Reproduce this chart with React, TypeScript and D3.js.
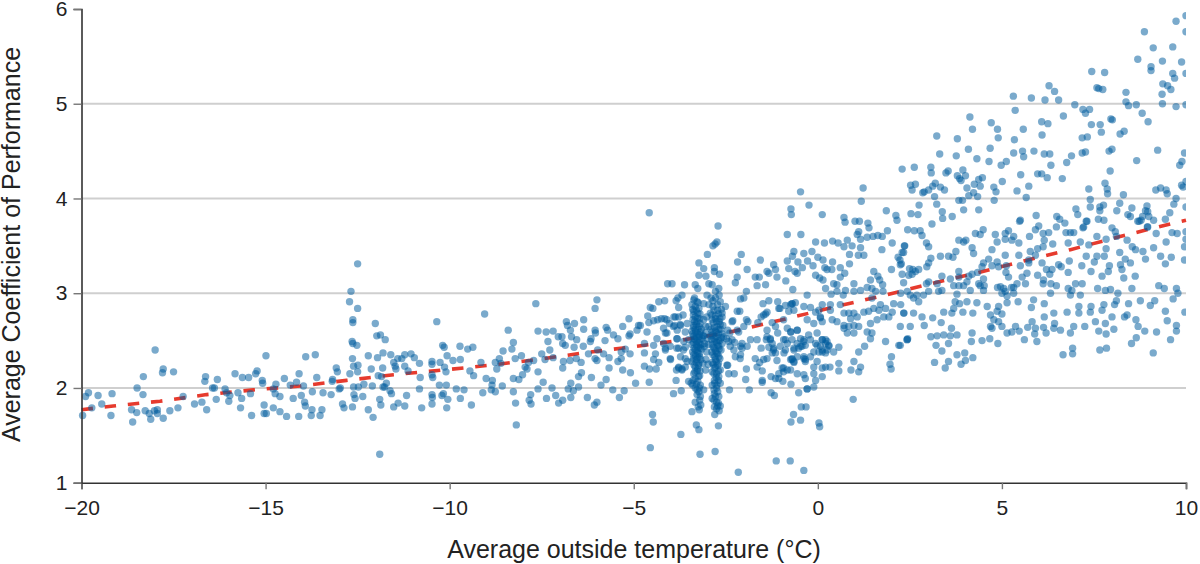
import React, { useEffect, useRef } from 'react';
import * as d3 from 'd3';

type Pt = [number, number];

const xTicks = [-20, -15, -10, -5, 0, 5, 10];
const yTicks = [1, 2, 3, 4, 5, 6];
const gridValues = [2, 3, 4, 5];
const xTitle = 'Average outside temperature (°C)';
const yTitle = 'Average Coefficient of Performance';

// trend line
const trend: Pt[] = [
	[-20, 1.77], [-19.14, 1.81], [-17.87, 1.86], [-16.6, 1.93], [-15.33, 1.98], [-14.06, 2.02],
	[-12.8, 2.08], [-11.52, 2.14], [-10.17, 2.19], [-8.9, 2.24], [-7.63, 2.3], [-6.36, 2.37],
	[-4.91, 2.44], [-3.78, 2.5], [-2.51, 2.58], [-1.83, 2.64], [-0.65, 2.75], [0.61, 2.87],
	[1.84, 2.98], [3.06, 3.1], [4.37, 3.22], [5.59, 3.34], [6.86, 3.46], [8.13, 3.59], [9.35, 3.71], [10, 3.77],
];

const coldPoints: Pt[] = [
	[-19.97, 1.71], [-19.89, 1.91], [-19.81, 1.95], [-19.72, 1.79], [-19.55, 1.92], [-19.45, 1.83], [-19.2, 1.71], [-19.17, 1.94],
	[-18.64, 1.77], [-18.61, 1.64], [-18.5, 1.74], [-18.49, 2.0], [-18.33, 1.93], [-18.32, 2.12], [-18.27, 1.76], [-18.16, 1.73],
	[-18.12, 1.67], [-18.0, 2.4], [-18.02, 1.76], [-17.94, 1.77], [-17.94, 1.73], [-17.78, 1.68], [-17.78, 2.2], [-17.8, 2.16],
	[-17.6, 1.76], [-17.5, 2.17], [-17.38, 1.79], [-17.24, 1.91], [-16.93, 1.83], [-16.73, 1.85], [-16.6, 1.77], [-16.63, 2.12],
	[-16.65, 2.07], [-16.44, 2.0], [-16.39, 2.0], [-16.34, 1.88], [-16.31, 2.09], [-16.1, 1.99], [-16.06, 1.95], [-16, 1.86],
	[-15.97, 1.92], [-15.83, 2.15], [-15.75, 1.95], [-15.68, 1.79], [-15.65, 1.89], [-15.63, 2.11], [-15.46, 2.11], [-15.41, 1.94],
	[-15.38, 1.71], [-15.27, 2.15], [-15.23, 2.18], [-15.09, 2.08], [-15.08, 2.05], [-15.04, 1.82], [-15.04, 1.73], [-14.98, 1.73],
	[-14.99, 2.34], [-14.79, 1.79], [-14.79, 1.99], [-14.74, 1.94], [-14.72, 2.04], [-14.61, 1.91], [-14.61, 1.75], [-14.49, 2.1],
	[-14.43, 1.7], [-14.33, 2.03], [-14.25, 1.89], [-14.16, 2.06], [-14.1, 1.7], [-14.09, 2.15], [-14.03, 1.92], [-13.97, 2.02],
	[-13.94, 1.85], [-13.92, 1.81], [-13.91, 2.33], [-13.76, 1.71], [-13.74, 1.77], [-13.73, 1.96], [-13.65, 2.35], [-13.61, 2.11],
	[-13.52, 1.71], [-13.47, 1.77], [-13.44, 1.95], [-13.22, 1.93], [-13.18, 2.09], [-13.19, 2.07], [-13.08, 2.21], [-13.05, 2.17],
	[-13, 1.99], [-12.97, 2], [-12.91, 1.83], [-12.87, 1.79], [-12.72, 2.91], [-12.68, 3.02], [-12.71, 2.15], [-12.64, 1.8],
	[-12.64, 2.31], [-12.63, 2.72], [-12.63, 2.69], [-12.65, 2.49], [-12.63, 2.47], [-12.52, 2.45], [-12.61, 2.23], [-12.49, 2.24],
	[-12.5, 2.17], [-12.5, 3.31], [-12.5, 2.84], [-12.61, 2.01], [-12.48, 2.01], [-12.6, 1.93], [-12.57, 1.89], [-12.36, 1.91],
	[-12.33, 2.04], [-12.21, 1.77], [-12.21, 2.34], [-12.13, 2.2], [-12.1, 2.02], [-12.08, 1.69], [-12.02, 2.68], [-11.98, 2.55],
	[-11.96, 2.32], [-11.94, 2.13], [-11.85, 2.12], [-11.9, 1.88], [-11.87, 1.82], [-11.9, 1.3], [-11.88, 2.56], [-11.81, 2.37],
	[-11.82, 2.21], [-11.81, 2.01], [-11.77, 2.01], [-11.72, 2.05], [-11.75, 2.51], [-11.6, 2.35], [-11.62, 1.97], [-11.58, 1.94],
	[-11.52, 2.27], [-11.52, 1.8], [-11.48, 2.23], [-11.46, 2.2], [-11.41, 2.31], [-11.4, 1.84],
];

const coolPoints: Pt[] = [
	[-11.3, 2.31], [-11.22, 2.35], [-11.22, 2.23], [-11.13, 2.18], [-11.05, 2.36], [-10.96, 2.32], [-10.82, 2.26], [-10.8, 2.11],
	[-10.82, 1.99], [-11.17, 1.92], [-11.22, 1.81], [-10.76, 1.79], [-10.48, 2.28], [-10.48, 2.25], [-10.48, 2.14], [-10.46, 2.11],
	[-10.48, 1.93], [-10.47, 1.9], [-10.48, 1.83], [-10.35, 2.7], [-10.28, 2.03], [-10.26, 2.27], [-10.21, 1.92], [-10.19, 2.45],
	[-10.15, 2.43], [-10.17, 1.94], [-10.14, 2.22], [-10.1, 2.17], [-10.09, 2.03], [-10.07, 2.34], [-10.05, 1.88], [-10.08, 1.79],
	[-9.91, 2.29], [-9.82, 1.99], [-9.72, 2.44], [-9.71, 2.3], [-9.71, 1.89], [-9.61, 1.98], [-9.51, 2.41], [-9.45, 2.18],
	[-9.41, 1.82], [-9.37, 2.43], [-9.35, 2.13], [-9.15, 2.27], [-9.1, 1.95], [-9.05, 2.78], [-9.01, 2.1], [-8.87, 1.98],
	[-8.84, 2.08], [-8.85, 2.03], [-8.76, 1.96], [-8.76, 2.27], [-8.72, 2.2], [-8.65, 2.31], [-8.61, 2.26], [-8.57, 2.02],
	[-8.55, 2.39], [-8.41, 2.61], [-8.27, 2.48], [-8.31, 2.41], [-8.27, 2.1], [-8.27, 1.96], [-8.21, 1.84], [-8.22, 2.31],
	[-8.19, 1.61], [-8.12, 2.09], [-8.05, 2.34], [-8.02, 2.14], [-7.95, 2.22], [-7.9, 2.2], [-7.86, 2.27], [-7.8, 1.93],
	[-7.84, 1.87], [-7.79, 1.83], [-7.72, 2.29], [-7.66, 2.89], [-7.6, 2.6], [-7.6, 2.17], [-7.6, 1.99], [-7.5, 2.36],
	[-7.46, 2.06], [-7.41, 2.3], [-7.38, 2.59], [-7.37, 1.89], [-7.33, 2.49], [-7.28, 2.4], [-7.22, 2], [-7.19, 2.6],
	[-7.19, 2.32], [-7.12, 1.92], [-7.05, 2.54], [-7.04, 1.84], [-6.95, 2.54], [-6.93, 2.47], [-6.93, 2.21], [-6.93, 1.87],
	[-6.91, 2.28], [-6.83, 2.7], [-6.8, 2.66], [-6.86, 2.45], [-6.78, 1.99], [-6.72, 2.61], [-6.73, 2.29], [-6.71, 1.9],
	[-6.71, 2.05], [-6.69, 2.54], [-6.61, 2.68], [-6.62, 2.43], [-6.64, 1.97], [-6.55, 2.51], [-6.56, 2.31], [-6.5, 2.01],
	[-6.5, 2.12], [-6.43, 2.27], [-6.42, 2.16], [-6.37, 2.44], [-6.36, 2.72], [-6.36, 2.62], [-6.26, 1.9], [-6.23, 2.36],
	[-6.18, 2.49], [-6.16, 2.52], [-6.15, 2.11], [-6.05, 2.84], [-6, 2.93], [-6.05, 2.61], [-6.04, 2.58], [-6.05, 2.31],
	[-6, 2.29], [-6.07, 1.82], [-6, 1.85], [-5.98, 2.4], [-5.89, 2.03], [-5.82, 2.36], [-5.78, 2.5], [-5.75, 2.09],
	[-5.75, 2.64], [-5.71, 2.61], [-5.67, 2.21], [-5.67, 2.32], [-5.57, 1.98], [-5.55, 2.56], [-5.43, 2.52], [-5.43, 2.28],
	[-5.39, 1.9], [-5.34, 2.38], [-5.34, 2.31], [-5.3, 2.65], [-5.3, 2.19], [-5.26, 1.97], [-5.23, 2.41], [-5.13, 2.73],
	[-5.13, 2.55], [-5.1, 2.57], [-5.1, 2.36], [-5.09, 2.16], [-4.95, 2.05], [-4.91, 2.61], [-4.87, 2.66],
];

const columnPoints: Pt[] = [
	[-4.58, 3.85], [-4.49, 1.72], [-4.47, 1.64], [-4.55, 1.37], [-3.72, 1.51], [-3.42, 1.75], [-3.2, 1.3], [-2.79, 1.33],
	[-2.16, 1.11], [-2.7, 1.6], [-3.3, 1.61], [-3.23, 1.56], [-2.8, 1.72], [-2.71, 3.71], [-2.74, 3.54], [-2.79, 3.52],
	[-2.85, 3.5], [-3.0, 3.41], [-3.23, 3.32], [-3.1, 3.26], [-2.81, 3.27], [-2.67, 3.2], [-3.04, 3.18], [-3.23, 3.19], [-2.81, 3.23],
	[-4.08, 3.1], [-3.96, 3.1], [-3.62, 3.09], [-3.69, 2.98], [-3.8, 2.95], [-4.16, 2.92], [-4.32, 2.91], [-3.85, 2.92],
	[-4.55, 2.85], [-4.48, 2.84], [-3.78, 2.85], [-4.62, 2.76], [-4.46, 2.71], [-4.35, 2.72], [-4.25, 2.73], [-4.16, 2.73],
	[-3.91, 2.75], [-3.78, 2.75], [-3.66, 2.77], [-4.03, 2.68], [-3.89, 2.66], [-3.73, 2.66], [-3.55, 2.68], [-4.59, 2.69],
	[-4.19, 2.63], [-4.64, 2.59], [-4.37, 2.52], [-4.1, 2.58], [-3.82, 2.61], [-3.6, 2.59], [-4.82, 2.66], [-4.71, 2.47],
	[-4.46, 2.45], [-4.19, 2.47], [-3.82, 2.52], [-3.64, 2.49], [-3.51, 2.51], [-4.71, 2.37], [-4.41, 2.36], [-4.14, 2.4],
	[-3.78, 2.42], [-3.6, 2.43], [-3.73, 2.33], [-4.0, 2.3], [-3.55, 2.28], [-4.46, 2.3], [-4.32, 2.27], [-4.71, 2.23],
	[-4.57, 2.2], [-4.39, 2.2], [-3.84, 2.19], [-3.78, 2.21], [-3.69, 2.2], [-3.6, 2.22], [-4.58, 2.06], [-3.85, 2.08],
	[-3.51, 2.07], [-3.92, 1.94], [-3.71, 1.97], [-3.44, 2.05],
	[-4.1, 2.72], [-3.87, 2.75], [-4.14, 2.58], [-3.92, 2.65], [-3.74, 2.67], [-4.01, 2.44], [-4.14, 2.42], [-3.83, 2.42],
	[-3.65, 2.4], [-3.83, 2.52], [-3.6, 2.31], [-3.78, 2.22], [-4.01, 2.31], [-3.69, 2.19],
	// first dense column
	[-3.33, 3.09], [-3.26, 3.05], [-3.37, 2.93], [-3.28, 2.91], [-3.42, 2.88], [-3.33, 2.86], [-3.23, 2.84], [-3.37, 2.81],
	[-3.26, 2.79], [-3.33, 2.75], [-3.21, 2.73], [-3.39, 2.72], [-3.28, 2.7], [-3.37, 2.66], [-3.23, 2.65], [-3.33, 2.62],
	[-3.42, 2.6], [-3.19, 2.59], [-3.28, 2.58], [-3.37, 2.55], [-3.23, 2.54], [-3.14, 2.52], [-3.33, 2.51], [-3.23, 2.48],
	[-3.42, 2.46], [-3.28, 2.44], [-3.19, 2.42], [-3.33, 2.4], [-3.26, 2.37], [-3.37, 2.35], [-3.21, 2.33], [-3.3, 2.3],
	[-3.42, 2.28], [-3.23, 2.26], [-3.33, 2.22], [-3.26, 2.2], [-3.37, 2.15], [-3.21, 2.13], [-3.33, 2.1], [-3.26, 2.07],
	[-3.39, 2.08], [-3.19, 2.03], [-3.33, 2.0], [-3.23, 1.96], [-3.28, 1.93], [-3.19, 1.91], [-3.33, 1.85], [-3.21, 1.87],
	[-3.35, 2.95], [-3.25, 2.9], [-3.4, 2.83], [-3.3, 2.82], [-3.2, 2.78], [-3.38, 2.77], [-3.27, 2.74], [-3.35, 2.7],
	[-3.2, 2.68], [-3.3, 2.67], [-3.38, 2.64], [-3.25, 2.62], [-3.16, 2.62], [-3.32, 2.59], [-3.4, 2.57], [-3.22, 2.56],
	[-3.3, 2.54], [-3.12, 2.55], [-3.36, 2.52], [-3.2, 2.51], [-3.28, 2.49], [-3.38, 2.48], [-3.18, 2.46], [-3.3, 2.46],
	[-3.24, 2.43], [-3.36, 2.42], [-3.15, 2.41], [-3.28, 2.39], [-3.4, 2.38], [-3.22, 2.36], [-3.32, 2.34], [-3.26, 2.32],
	[-3.38, 2.31], [-3.18, 2.3], [-3.3, 2.27], [-3.24, 2.24], [-3.36, 2.24], [-3.28, 2.18], [-3.2, 2.18], [-3.34, 2.17],
	[-3.24, 2.12], [-3.3, 2.04], [-3.4, 2.03], [-3.22, 2.0], [-3.28, 1.98], [-3.18, 1.82], [-3.25, 1.8], [-3.22, 1.77],
	// second dense column
	[-2.96, 3.1], [-2.87, 3.09], [-2.69, 3.05], [-3.01, 2.98], [-2.9, 2.95], [-2.78, 2.95], [-2.65, 2.91], [-2.96, 2.88],
	[-2.85, 2.86], [-2.72, 2.82], [-2.51, 2.86], [-2.6, 2.79], [-2.92, 2.79], [-2.78, 2.76], [-2.66, 2.73], [-2.87, 2.72],
	[-2.75, 2.7], [-2.65, 2.67], [-2.96, 2.65], [-2.81, 2.64], [-2.69, 2.62], [-2.87, 2.59], [-2.75, 2.58], [-2.6, 2.57],
	[-2.92, 2.55], [-2.81, 2.52], [-2.66, 2.5], [-2.75, 2.48], [-2.87, 2.46], [-2.69, 2.44], [-2.81, 2.42], [-2.63, 2.4],
	[-2.75, 2.37], [-2.85, 2.35], [-2.69, 2.33], [-2.78, 2.3], [-2.87, 2.27], [-2.72, 2.24], [-2.81, 2.21], [-2.65, 2.19],
	[-2.75, 2.15], [-2.87, 2.17], [-2.69, 2.12], [-2.81, 2.08], [-2.65, 2.05], [-2.87, 2.03], [-2.75, 2.0], [-2.81, 1.94],
	[-2.69, 1.91], [-2.87, 1.89], [-2.75, 1.85], [-2.72, 1.81], [-2.65, 1.81], [-2.81, 1.8],
	[-2.78, 3.02], [-2.68, 2.98], [-2.85, 2.92], [-2.72, 2.88], [-2.62, 2.83], [-2.82, 2.82], [-2.7, 2.78], [-2.88, 2.77],
	[-2.6, 2.75], [-2.78, 2.73], [-2.68, 2.7], [-2.84, 2.69], [-2.58, 2.66], [-2.74, 2.65], [-2.9, 2.62], [-2.64, 2.62],
	[-2.78, 2.6], [-2.7, 2.57], [-2.86, 2.56], [-2.76, 2.54], [-2.62, 2.53], [-2.88, 2.51], [-2.7, 2.5], [-2.8, 2.49],
	[-2.6, 2.47], [-2.72, 2.45], [-2.84, 2.43], [-2.68, 2.41], [-2.78, 2.39], [-2.88, 2.38], [-2.72, 2.36], [-2.8, 2.33],
	[-2.66, 2.31], [-2.76, 2.28], [-2.84, 2.25], [-2.7, 2.26], [-2.78, 2.22], [-2.7, 2.18], [-2.82, 2.15], [-2.76, 2.11],
	[-2.7, 2.08], [-2.8, 2.05], [-2.74, 2.03], [-2.82, 1.98], [-2.72, 1.96], [-2.78, 1.91], [-2.82, 1.87], [-2.7, 1.84],
	[-2.75, 1.78], [-2.68, 1.76],
	[-3.05, 2.58], [-3.0, 2.52], [-3.08, 2.44], [-2.98, 2.46], [-3.02, 2.38], [-3.1, 2.55], [-3.02, 2.75], [-3.1, 2.72],
	[-3.04, 2.3], [-3.12, 2.26], [-2.98, 2.25],
	[-3.1, 2.89], [-3.05, 2.65], [-3.08, 2.47], [-3.05, 2.19], [-3.1, 1.98],
	[-2.48, 2.52], [-2.45, 2.61], [-2.42, 2.49], [-2.56, 2.54], [-2.38, 2.44], [-2.39, 2.58], [-2.19, 2.61], [-2.45, 2.24],
	[-2.4, 1.98], [-2.27, 2.15], [-2.1, 2.35], [-2.15, 2.59], [-2.31, 2.71], [-2.19, 2.81], [-2.12, 2.81], [-2.1, 2.94],
	[-1.94, 3.02], [-2.01, 2.95], [-1.92, 3.25], [-2.08, 3.41], [-2.18, 3.33], [-2.19, 3.17], [-2.24, 3.11], [-1.94, 2.72],
	[-1.9, 2.7], [-2.01, 2.65], [-1.92, 2.44], [-2.26, 2.48], [-2.06, 2.47], [-1.94, 2.2], [-1.96, 2.09], [-1.86, 1.98],
	[-1.83, 2.51], [-1.65, 2.51], [-2.1, 2.44], [-2.28, 2.4],
	[-2.33, 2.7], [-2.33, 2.51], [-2.06, 2.42], [-2.24, 2.33], [-2.11, 2.31], [-2.47, 2.24], [-2.42, 2.15],
];

const nearZeroPoints: Pt[] = [
	[-1.7, 3.17], [-1.56, 3.35], [-1.65, 3.08], [-1.42, 3.09], [-1.59, 3.17], [-1.38, 3.23], [-1.2, 3.3], [-1.15, 3.25],
	[-1.33, 3.21], [-1.11, 3.17], [-1.49, 2.89], [-1.42, 2.78], [-1.54, 2.75], [-1.63, 2.69], [-1.38, 2.8], [-1.03, 2.84],
	[-1.09, 2.91], [-1.33, 2.92], [-1.24, 2.69], [-0.93, 2.72], [-1.38, 2.61], [-1.15, 2.65], [-1.09, 2.58], [-1.4, 2.51],
	[-1.29, 2.52], [-1.24, 2.47], [-1.2, 2.4], [-1.15, 2.37], [-1.54, 2.42], [-1.33, 2.43], [-1.7, 2.31], [-1.58, 2.27],
	[-1.47, 2.3], [-1.38, 2.31], [-1.11, 2.29], [-1.51, 2.18], [-1.65, 2.22], [-1.27, 2.12], [-1.15, 2.1], [-1.06, 2.1],
	[-1.51, 2.06], [-0.97, 2.21], [-0.93, 2.17], [-0.95, 2.07], [-1.27, 1.95], [-1.18, 1.92], [-0.52, 1.95], [-0.73, 2.04],
	[-0.45, 1.8], [-0.32, 1.8], [-0.66, 1.72], [-0.73, 1.64], [-0.47, 1.66], [0.03, 1.63], [0.05, 1.59], [-1.13, 1.23],
	[-0.75, 1.23], [-0.38, 1.13], [-0.83, 3.62], [-0.46, 3.62], [-0.73, 3.89], [-0.72, 3.83], [-0.47, 4.07], [-0.24, 3.93],
	[0.12, 3.83], [-0.06, 3.54], [0.18, 3.53], [0.4, 3.55], [0.55, 3.53], [0.71, 3.49], [0.8, 3.56], [0.93, 3.5],
	[0.71, 3.8], [0.74, 3.75], [1.01, 3.76], [1.13, 3.76], [1.11, 3.65], [1.07, 3.62], [1.36, 3.74], [1.39, 3.69],
	[1.23, 4.11], [1.18, 3.97], [1.86, 3.87], [2.12, 3.82], [2.15, 3.77], [1.89, 3.66], [1.16, 3.57], [1.34, 3.59], [1.5, 3.6],
	[1.63, 3.61], [1.75, 3.6], [2.02, 3.53], [1.74, 3.46], [1.16, 3.48], [0.86, 3.41], [1.1, 3.4], [1.25, 3.4],
	[2.35, 3.5], [2.29, 3.43], [2.18, 3.38], [2.23, 3.35], [2.27, 3.31], [2.0, 3.25], [-0.65, 3.44], [-0.69, 3.39], [-0.38, 3.42], [-0.16, 3.44],
	[-0.83, 3.34], [-0.79, 3.26], [-0.54, 3.33], [-0.28, 3.34], [0.0, 3.38], [0.14, 3.35], [0.4, 3.33], [-0.13, 3.29],
	[-0.42, 3.27], [-0.62, 3.23], [-0.56, 3.21], [0.19, 3.27], [0.25, 3.25], [0.38, 3.25], [0.61, 3.27], [0.86, 3.31],
	[0.73, 3.21], [0.61, 3.17], [-0.06, 3.19], [0.05, 3.16], [0.14, 3.14], [-0.87, 3.13], [-0.68, 3.04], [0.21, 3.05],
	[0.52, 3.09], [0.43, 3.1], [0.75, 3.03], [0.98, 3.1], [1.16, 3.03], [0.98, 3.02], [1.34, 3.06], [1.52, 3.23],
	[1.43, 3.14], [1.63, 3.18], [1.68, 3.14], [1.47, 3.05], [1.76, 3.09], [1.57, 3.02], [1.47, 2.95], [1.77, 3.02],
	[2.25, 3.0], [2.43, 3.02], [0.52, 3.02], [0.36, 2.99], [0.69, 2.98], [-0.29, 2.98], [-0.88, 2.87], [-0.7, 2.89],
	[-0.61, 2.9], [-0.65, 2.82], [-0.79, 2.81], [-0.38, 2.86], [-0.2, 2.85], [-0.06, 2.8], [0.03, 2.82], [0.07, 2.75],
	[0.34, 2.88], [0.34, 2.82], [0.12, 2.88], [0.61, 2.88], [0.84, 2.79], [0.71, 2.79], [0.98, 2.79], [0.89, 2.73],
	[1.07, 2.75], [1.25, 2.8], [1.38, 2.81], [1.52, 2.84], [1.7, 2.88], [1.66, 2.82], [1.84, 2.84], [2.02, 2.8],
	[1.93, 2.75], [1.79, 2.75], [1.61, 2.72], [1.43, 2.68], [2.06, 2.89], [2.25, 2.88], [2.34, 2.79],
	[2.74, 2.91], [-0.29, 2.72], [-0.11, 2.68], [0.12, 2.7], [0.39, 2.72], [0.52, 2.7], [0.71, 2.66], [0.8, 2.58],
	[0.98, 2.58], [0.71, 2.63], [0.84, 2.65], [0.98, 2.66], [1.11, 2.65],
	[-0.83, 2.63], [-0.56, 2.61], [-0.73, 2.59], [-0.25, 2.56], [-0.38, 2.49], [-0.47, 2.52], [-0.2, 2.51], [-0.02, 2.58],
	[0.12, 2.51], [0.21, 2.47], [-0.56, 2.47], [-0.7, 2.51], [-0.83, 2.47], [-0.93, 2.51], [-0.88, 2.4], [-1.02, 2.44],
	[-0.65, 2.4], [-0.47, 2.44], [-0.34, 2.45], [-0.38, 2.33], [-0.34, 2.3], [-0.7, 2.31], [-0.65, 2.27], [-0.74, 2.3],
	[-0.56, 2.33], [-0.06, 2.47], [0.07, 2.44], [0.3, 2.45], [0.12, 2.38], [0.25, 2.4], [-0.11, 2.38], [-0.2, 2.33],
	[0.43, 2.38], [0.57, 2.43], [-0.02, 2.28], [-0.11, 2.22], [0.12, 2.21], [0.21, 2.22], [0.33, 2.22], [0.57, 2.26],
	[0.57, 2.18], [-0.38, 2.14], [-0.11, 2.15], [-0.34, 2.1], [0.12, 2.12], [-0.06, 2.08], [-0.29, 1.99], [-0.11, 2.01],
	[-0.74, 2.19], [-0.56, 2.15], [-0.93, 2.21], [-1.06, 2.15], [-0.83, 2.19],
	// darker blobs around 2.2 to 2.6
	[-1.38, 2.54], [-1.29, 2.51], [-1.2, 2.42], [-1.24, 2.37], [-0.7, 2.3], [-0.65, 2.28], [-0.88, 2.51], [-0.74, 2.59],
	[-0.56, 2.61], [-0.38, 2.51], [-0.43, 2.44], [-0.52, 2.42], [-0.38, 2.31], [-0.34, 2.28], [-0.02, 2.45], [0.12, 2.51],
	[0.21, 2.51], [0.3, 2.44], [0.12, 2.4], [0.03, 2.38], [0.21, 2.37], [0.25, 2.49], [-1.51, 2.08], [-0.74, 2.88],
	[-0.7, 2.89], [-1.06, 2.84], [-1.47, 2.77], [0.07, 2.74], [-0.29, 1.99], [-0.92, 2.37], [-0.65, 2.42],
	[0.98, 2.28], [0.9, 2.19], [1.11, 2.17], [1.16, 2.22], [1.11, 2.38], [1.27, 2.44], [1.43, 2.52], [1.34, 2.59],
	[1.47, 2.58], [1.84, 2.49], [2.0, 2.33], [1.96, 2.25], [1.99, 2.2], [2.43, 2.51], [2.44, 2.52], [2.2, 2.45], [0.96, 1.88],
];

const warmUpperPoints: Pt[] = [
	[2.29, 4.31], [2.62, 4.33], [3.07, 4.33], [3.08, 4.27], [3.23, 4.66], [3.31, 4.47], [3.48, 4.27], [3.54, 4.29],
	[3.79, 4.63], [3.76, 4.45], [3.79, 4.24], [3.85, 4.21], [3.89, 4.19], [4.01, 4.24], [3.94, 4.3], [4.13, 4.86],
	[4.2, 4.73], [4.09, 4.52], [4.32, 4.42], [4.47, 4.22], [4.37, 4.2], [4.25, 4.15], [4.05, 4.11], [4.41, 4.13],
	[4.23, 4.06], [4.1, 4.03], [4.34, 4.02], [3.93, 3.98], [3.83, 3.98], [3.96, 3.88], [4.37, 3.88], [4.71, 4.8],
	[4.88, 4.73], [4.9, 4.64], [4.68, 4.53], [4.65, 4.39], [4.98, 4.35], [5.12, 4.39], [5.34, 4.62], [5.32, 4.48],
	[5.31, 5.08], [5.36, 4.93], [5.58, 4.73], [5.56, 4.5], [5.59, 4.44], [5.87, 4.5], [5.8, 5.06], [6.17, 5.04],
	[6.28, 5.19], [6.43, 5.13], [6.54, 5.04], [6.08, 4.81], [6.25, 4.79], [6.09, 4.67], [6.15, 4.47], [6.3, 4.47],
	[6.33, 4.35], [5.51, 4.25], [5.97, 4.26], [6.08, 4.26], [6.23, 4.22], [6.64, 4.21], [4.78, 4.12], [4.84, 4.07],
	[5.01, 4.18], [5.41, 4.08], [5.73, 4.13], [5.66, 4.01], [4.79, 3.98], [6.67, 4.87], [6.98, 4.99], [7.2, 4.94],
	[7.27, 4.9], [7.38, 4.94], [7.44, 5.34], [7.79, 5.33], [7.58, 5.17], [7.63, 5.16], [7.74, 5.15], [8.37, 5.12],
	[8.37, 5.02], [8.44, 4.98], [8.65, 4.99], [8.81, 4.9], [8.97, 4.81], [7.43, 4.78], [7.67, 4.78], [7.7, 4.7],
	[7.96, 4.84], [8.0, 4.83], [8.21, 4.68], [8.32, 4.71], [7.18, 4.64], [7.32, 4.65], [7.18, 4.48], [7.27, 4.49],
	[7.91, 4.5], [7.99, 4.52], [6.89, 4.45], [6.76, 4.38], [7.94, 4.29], [7.8, 4.16], [7.36, 4.1], [7.86, 4.1],
	[7.87, 4.05], [8.3, 4.04], [8.66, 4.4], [9.23, 4.51], [9.96, 4.48], [9.89, 4.39], [9.83, 4.35], [8.87, 5.76],
	[9.73, 5.87], [10, 5.93], [10, 5.76], [9.64, 5.6], [9.11, 5.59], [9.36, 5.45], [9.88, 5.44], [8.69, 5.47],
	[9.05, 5.39], [9.05, 5.35], [9.64, 5.32], [9.69, 5.27], [10, 5.32], [9.37, 5.21], [9.5, 5.19], [9.59, 5.15],
	[9.35, 5.1], [9.36, 5.0], [9.73, 4.97], [10, 4.99], [9.18, 4.09], [9.31, 4.11], [9.46, 4.09], [9.49, 4.05],
	[9.88, 4.14], [9.92, 4.12], [10, 4.18], [9.73, 4.0], [9.67, 3.94], [9.56, 3.85], [10, 3.91], [7.4, 3.99],
	[7.4, 3.91], [7.66, 3.91], [7.76, 3.93], [7.66, 3.87], [8.12, 3.87], [8.2, 3.95], [8.53, 3.9], [7.01, 3.89],
	[7.06, 3.83], [6.49, 3.81], [6.57, 3.78], [6.71, 3.74], [5.93, 3.82], [5.48, 3.76], [8.42, 3.83], [8.49, 3.81],
	[8.94, 3.92], [8.9, 3.87], [8.96, 3.86], [8.82, 3.81], [8.99, 3.81], [8.69, 3.76], [8.78, 3.77], [9.12, 3.77],
	[9.44, 3.78], [8.95, 3.7], [7.62, 3.78], [7.77, 3.77], [7.29, 3.76], [7.22, 3.7], [2.53, 3.84], [2.72, 3.83],
	[2.75, 3.93], [3.17, 4.02], [3.23, 3.94], [3.38, 3.86], [3.39, 3.79], [3.65, 3.81], [3.1, 3.73], [2.52, 4.14],
	[2.65, 4.15], [2.56, 4.09], [2.85, 4.06], [2.89, 4.07], [3.01, 4.09], [3.19, 4.16], [3.33, 4.12], [3.44, 4.09],
	[3.12, 4.13], [2.44, 3.67], [2.62, 3.66], [2.78, 3.66], [2.83, 3.61],
];

const warmLowerPoints: Pt[] = [
	[2.95, 3.53], [3.01, 3.49], [2.36, 3.5], [2.33, 3.43], [3.83, 3.56], [3.96, 3.54], [4.02, 3.56], [4.19, 3.48],
	[4.23, 3.42], [4.28, 3.63], [4.41, 3.62], [4.49, 3.67], [4.82, 3.62], [4.87, 3.54], [4.73, 3.46], [5.09, 3.63],
	[5.18, 3.66], [5.32, 3.6], [5.09, 3.57], [5.27, 3.56], [5.46, 3.53], [5.5, 3.77], [5.75, 3.6], [5.91, 3.67],
	[6.0, 3.71], [6.12, 3.63], [6.27, 3.64], [6.48, 3.7], [6.15, 3.56], [6.38, 3.52], [6.74, 3.64], [6.86, 3.64],
	[6.95, 3.64], [6.8, 3.53], [7.13, 3.54], [7.2, 3.69], [7.31, 3.76], [7.36, 3.51], [7.58, 3.6], [7.83, 3.57],
	[8.08, 3.65], [7.99, 3.69], [8.11, 3.6], [8.4, 3.56], [8.54, 3.49], [8.73, 3.76], [8.96, 3.7], [9.19, 3.63],
	[9.62, 3.64], [9.76, 3.63], [9.46, 3.54], [9.12, 3.48], [9.96, 3.49], [10, 3.65], [10, 3.57], [3.33, 3.39],
	[3.55, 3.39], [3.67, 3.38], [3.75, 3.44], [3.07, 3.37], [3.01, 3.32], [2.96, 3.28], [2.49, 3.26], [2.58, 3.25],
	[2.65, 3.23], [2.56, 3.2], [2.47, 3.19], [2.74, 3.25], [2.29, 3.2], [2.24, 3.3], [4.46, 3.28], [4.5, 3.32],
	[4.64, 3.36], [4.73, 3.29], [4.87, 3.33], [4.91, 3.28], [5.09, 3.4], [5.12, 3.29], [5.11, 3.22], [5.18, 3.17],
	[5.46, 3.4], [5.5, 3.29], [5.73, 3.35], [5.77, 3.44], [5.97, 3.47], [6.12, 3.49], [5.91, 3.4], [5.73, 3.32],
	[6.09, 3.32], [6.21, 3.25], [6.36, 3.25], [6.3, 3.2], [6.54, 3.3], [6.61, 3.28], [6.8, 3.22], [6.83, 3.34],
	[7.17, 3.29], [7.29, 3.39], [7.51, 3.33], [7.58, 3.39], [7.83, 3.47], [7.78, 3.39], [7.92, 3.29], [7.89, 3.23],
	[7.42, 3.23], [7.72, 3.18], [8.2, 3.43], [8.22, 3.3], [8.26, 3.25], [8.31, 3.16], [8.35, 3.36], [8.49, 3.32],
	[8.63, 3.46], [8.83, 3.44], [8.9, 3.36], [8.62, 3.18], [9.31, 3.39], [9.6, 3.38], [9.44, 3.31], [9.96, 3.35],
	[3.83, 3.23], [4.1, 3.18], [4.19, 3.2], [4.34, 3.22], [4.5, 3.15], [4.37, 3.1], [4.41, 3.08], [4.05, 3.12],
	[3.83, 3.17], [3.6, 3.15], [3.37, 3.18], [3.24, 3.1], [3.01, 3.12], [2.95, 3.1], [3.37, 3.03], [3.28, 3.02],
	[3.01, 3.02], [2.87, 2.98], [2.69, 2.98], [2.6, 2.95], [2.51, 2.98], [2.33, 3.11], [3.69, 3.08], [3.83, 3.08],
	[3.96, 3.08], [4.14, 3.03], [4.5, 3.03], [4.52, 3.08], [3.78, 2.99], [4.96, 3.07], [4.88, 3.06], [5.05, 3.05],
	[5.09, 3.02], [5.0, 3.0], [5.14, 2.97], [5.32, 3.06], [5.41, 3.1], [5.26, 3.06], [5.55, 3.17], [5.68, 3.21],
	[5.64, 3.1], [5.32, 3.0], [5.97, 3.19], [6.13, 3.14], [6.12, 3.1], [6.33, 3.1], [6.48, 3.08], [6.32, 3.0],
	[7.0, 3.1], [7.18, 3.1], [6.8, 3.05], [6.9, 3.03], [6.86, 2.98], [7.13, 2.98], [7.6, 3.05], [7.81, 3.03],
	[7.95, 3.04], [8.15, 3.0], [8.53, 3.05], [9.26, 3.08], [9.41, 3.05], [9.74, 3.05], [9.78, 3.0], [9.65, 2.94],
	[9.15, 2.92], [9.03, 2.87], [8.76, 2.92], [8.44, 2.89], [8.11, 2.92], [7.77, 2.88], [8.06, 2.88], [7.72, 2.82],
	[7.42, 2.86], [7.4, 2.8], [7.09, 2.86], [7.09, 2.79], [6.77, 2.8], [6.41, 2.79], [6.15, 2.75], [6.15, 2.89],
	[5.86, 2.93], [5.8, 2.85], [5.44, 2.91], [5.14, 2.9], [4.91, 2.86], [4.6, 2.86], [4.32, 2.9], [4.05, 2.91],
	[3.85, 2.89], [3.73, 2.91], [3.69, 2.84], [3.94, 2.8], [4.21, 2.79], [3.64, 2.79], [3.42, 2.8], [3.12, 2.74],
	[2.83, 2.75], [2.6, 2.79], [2.33, 2.79], [3.35, 2.69], [2.89, 2.66], [2.51, 2.65], [2.24, 2.65], [3.63, 2.63],
	[4.69, 2.77], [4.87, 2.81], [5.0, 2.78], [4.78, 2.72], [4.91, 2.7], [4.69, 2.65], [5.0, 2.65], [5.37, 2.65],
	[4.73, 2.63], [5.14, 2.58], [5.27, 2.59], [5.47, 2.6], [5.7, 2.64], [5.82, 2.7], [5.91, 2.63], [5.89, 2.57],
	[6.13, 2.64], [6.2, 2.58], [5.95, 2.49], [5.61, 2.51], [6.43, 2.68], [6.41, 2.63], [6.59, 2.61], [6.86, 2.58],
	[6.95, 2.65], [7.25, 2.65], [7.54, 2.7], [7.81, 2.68], [7.63, 2.6], [7.83, 2.57], [8.04, 2.62], [7.99, 2.75],
	[8.4, 2.77], [8.33, 2.75], [8.64, 2.72], [8.7, 2.65], [8.88, 2.6], [9.2, 2.59], [9.44, 2.81], [9.49, 2.71],
	[9.74, 2.66], [9.74, 2.6], [9.58, 2.51], [9.97, 2.8], [8.65, 2.53], [8.52, 2.47], [9.11, 2.37], [7.84, 2.42],
	[7.66, 2.4], [6.92, 2.42], [6.92, 2.36], [6.66, 2.35], [3.07, 2.54], [3.24, 2.55], [3.42, 2.56], [3.6, 2.55],
	[3.78, 2.56], [4.19, 2.58], [4.17, 2.49], [4.46, 2.5], [4.67, 2.52], [4.89, 2.47], [3.21, 2.45], [3.37, 2.39],
	[3.55, 2.47], [3.55, 2.28], [3.46, 2.21], [3.17, 2.27], [3.78, 2.35], [3.99, 2.37], [4.01, 2.29], [3.89, 2.25],
	[4.21, 2.32], [2.42, 2.51], [2.24, 2.45],
];

const allPoints = [...coldPoints, ...coolPoints, ...columnPoints, ...nearZeroPoints, ...warmUpperPoints, ...warmLowerPoints];

const W = 1200;
const H = 564;
const FONT = '"Liberation Sans", Arial, sans-serif';

const App: React.FC = () => {
	const ref = useRef<SVGSVGElement>(null);

	useEffect(() => {
		if (!ref.current) return;
		const svg = d3.select(ref.current);
		svg.selectAll('*').remove();

		const x = d3.scaleLinear().domain([-20, 10]).range([81.5, 1186]);
		const y = d3.scaleLinear().domain([1, 6]).range([482.7, 9]);

		svg
			.append('defs')
			.append('clipPath')
			.attr('id', 'plot-clip')
			.append('rect')
			.attr('x', 0)
			.attr('y', 0)
			.attr('width', x(10))
			.attr('height', H);

		// Gridlines
		svg
			.append('g')
			.selectAll('line')
			.data(gridValues)
			.enter()
			.append('line')
			.attr('x1', x(-20))
			.attr('x2', x(10))
			.attr('y1', (d) => y(d))
			.attr('y2', (d) => y(d))
			.attr('stroke', '#cfcfcf')
			.attr('stroke-width', 2);

		// Trend sits under the dots, the dots tint it where they overlap
		const line = d3
			.line<Pt>()
			.x((d) => x(d[0]))
			.y((d) => y(d[1]));
		svg
			.append('path')
			.attr('d', line(trend))
			.attr('fill', 'none')
			.attr('stroke', '#e63b2e')
			.attr('stroke-width', 3.6)
			.attr('stroke-dasharray', '11.5 11.8');

		svg
			.append('g')
			.attr('clip-path', 'url(#plot-clip)')
			.selectAll('circle')
			.data(allPoints)
			.enter()
			.append('circle')
			.attr('cx', (d) => x(d[0]))
			.attr('cy', (d) => y(d[1]))
			.attr('r', 3.7)
			.attr('fill', '#005c9e')
			.attr('fill-opacity', 0.52);

		// Axes
		const xAxis = d3.axisBottom(x).tickValues(xTicks).tickSize(6.5).tickPadding(11);
		const gx = svg.append('g').attr('transform', `translate(0,${y(1)})`).call(xAxis);
		const yAxis = d3.axisLeft(y).tickValues(yTicks).tickSize(8).tickPadding(6).tickFormat(d3.format('d'));
		const gy = svg.append('g').attr('transform', `translate(${x(-20)},0)`).call(yAxis);
		[gx, gy].forEach((g) => {
			g.select('.domain').attr('stroke', '#333').attr('stroke-width', 1.6);
			g.selectAll('.tick line').attr('stroke', '#777').attr('stroke-width', 1.4);
			g.selectAll('.tick text').attr('font-family', FONT).attr('font-size', 21).attr('fill', '#222');
		});

		svg
			.append('text')
			.attr('x', 634)
			.attr('y', 558)
			.attr('text-anchor', 'middle')
			.attr('font-family', FONT)
			.attr('font-size', 25)
			.attr('fill', '#222')
			.text(xTitle);
		svg
			.append('text')
			.attr('transform', 'translate(20,244.5) rotate(-90)')
			.attr('text-anchor', 'middle')
			.attr('font-family', FONT)
			.attr('font-size', 25)
			.attr('fill', '#222')
			.text(yTitle);
	}, []);

	return <svg ref={ref} width={W} height={H} style={{ position: 'absolute', left: 0, top: 0 }} />;
};

export default App;
